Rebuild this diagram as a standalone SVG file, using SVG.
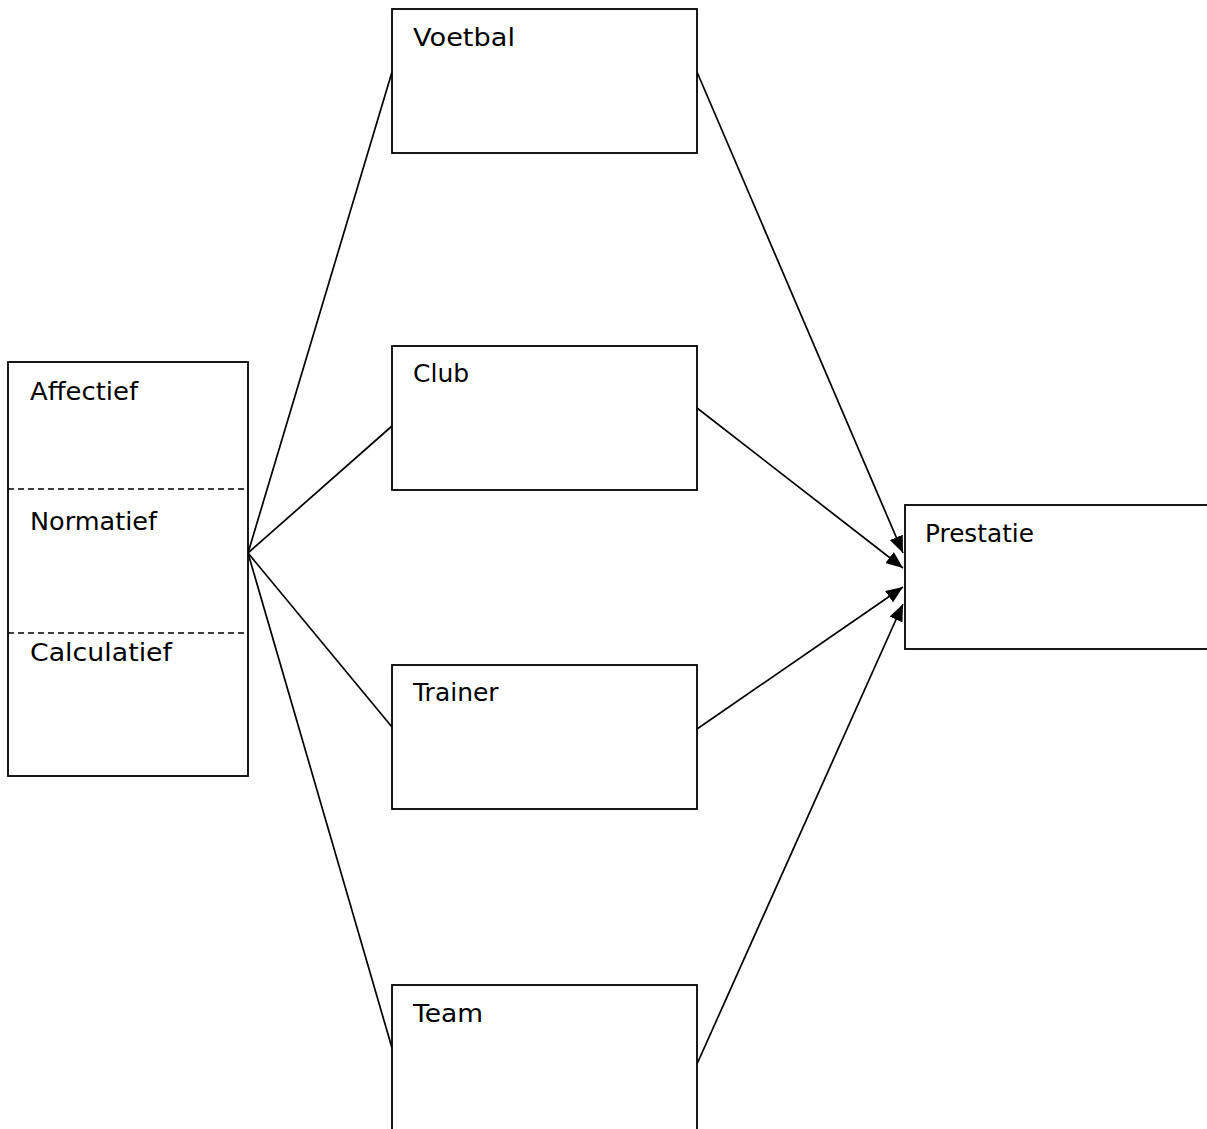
<svg xmlns="http://www.w3.org/2000/svg" width="1207" height="1129" viewBox="0 0 1207 1129">
<style>
.box{fill:#fff;stroke:#000;stroke-width:1.8}
.dash{stroke:#000;stroke-width:1.4;stroke-dasharray:6,4;fill:none}
.lbl{font-family:"DejaVu Sans","Liberation Sans",sans-serif;font-size:25px;fill:#000}
.con{stroke:#000;stroke-width:1.7;fill:none}
</style>
<defs>
<marker id="ah" markerUnits="userSpaceOnUse" markerWidth="18" markerHeight="14" refX="17" refY="7" orient="auto">
<path d="M0,0 L17,7 L0,14 Z" fill="#000"/>
</marker>
</defs>
<rect width="1207" height="1129" fill="#fff"/>
<g id="connectors">
<line class="con" x1="248" y1="553" x2="392" y2="72"/>
<line class="con" x1="248" y1="553" x2="392" y2="426"/>
<line class="con" x1="248" y1="553" x2="392" y2="727"/>
<line class="con" x1="248" y1="553" x2="392" y2="1048"/>
<line class="con" x1="697" y1="72" x2="903" y2="553" marker-end="url(#ah)"/>
<line class="con" x1="697" y1="408" x2="903" y2="568" marker-end="url(#ah)"/>
<line class="con" x1="697" y1="729" x2="903" y2="587" marker-end="url(#ah)"/>
<line class="con" x1="697" y1="1064" x2="903" y2="604" marker-end="url(#ah)"/>
</g>
<g id="commitment">
<rect class="box" x="8" y="362" width="240" height="414"/>
<line class="dash" x1="8" y1="489" x2="248" y2="489"/>
<line class="dash" x1="8" y1="633" x2="248" y2="633"/>
<text class="lbl" x="30" y="400" textLength="108" lengthAdjust="spacingAndGlyphs">Affectief</text>
<text class="lbl" x="30" y="530" textLength="127" lengthAdjust="spacingAndGlyphs">Normatief</text>
<text class="lbl" x="30" y="661" textLength="142" lengthAdjust="spacingAndGlyphs">Calculatief</text>
</g>
<g id="voetbal">
<rect class="box" x="392" y="9" width="305" height="144"/>
<text class="lbl" x="413" y="46" textLength="102" lengthAdjust="spacingAndGlyphs">Voetbal</text>
</g>
<g id="club">
<rect class="box" x="392" y="346" width="305" height="144"/>
<text class="lbl" x="413" y="382">Club</text>
</g>
<g id="trainer">
<rect class="box" x="392" y="665" width="305" height="144"/>
<text class="lbl" x="413" y="701">Trainer</text>
</g>
<g id="team">
<rect class="box" x="392" y="985" width="305" height="160"/>
<text class="lbl" x="413" y="1022" textLength="70" lengthAdjust="spacingAndGlyphs">Team</text>
</g>
<g id="prestatie">
<rect class="box" x="905" y="505" width="320" height="144"/>
<text class="lbl" x="925" y="542" textLength="109" lengthAdjust="spacingAndGlyphs">Prestatie</text>
</g>
</svg>
